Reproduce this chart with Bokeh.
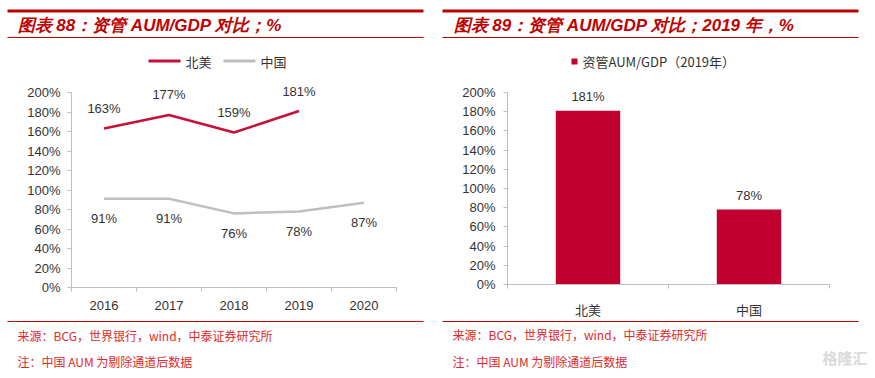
from bokeh.plotting import figure
from bokeh.models import (ColumnDataSource, LabelSet, FixedTicker, Range1d,
                          PrintfTickFormatter, LinearAxis)
from bokeh.core.properties import value
from bokeh.embed import file_html
from bokeh.resources import INLINE

# ---------------- data ----------------
years = ["2016", "2017", "2018", "2019", "2020"]
na_vals = [163, 177, 159, 181]          # 北美 2016-2019
cn_vals = [91, 91, 76, 78, 87]          # 中国 2016-2020
bar_cats = ["北美", "中国"]
bar_vals = [181, 78]
y_ticks = [0, 20, 40, 60, 80, 100, 120, 140, 160, 180, 200]

title_left = "图表 88：资管 AUM/GDP 对比；%"
title_right = "图表 89：资管 AUM/GDP 对比；2019 年，%"
legend_left = ["北美", "中国"]
legend_right = "资管AUM/GDP（2019年）"
source_txt = "来源：BCG，世界银行，wind，中泰证券研究所"
note_txt = "注：中国 AUM 为剔除通道后数据"
watermark = "格隆汇"

RED = "#C00000"
LINE_RED = "#C8103A"
GRAY = "#BFBFBF"
BAR = "#C0002E"
TXT = "#333333"
SRC = "#E02A2A"
AX = "#BFBFBF"
LATIN = "Liberation Sans"
CJK = "Noto Sans CJK SC"

W, H = 875, 378

# whole canvas = frame; default ranges are page pixels (y downwards)
p = figure(width=W, height=H, x_range=Range1d(0, W), y_range=Range1d(H, 0),
           x_axis_type=None, y_axis_type=None, output_backend="svg",
           toolbar_location=None, min_border=0, min_border_left=0,
           min_border_right=0, min_border_top=0, min_border_bottom=0)
p.outline_line_color = None
p.xgrid.visible = False
p.ygrid.visible = False


def mapped_range(v_a, px_a, v_b, px_b, total, vertical):
    k = (v_b - v_a) / (px_b - px_a)
    v0 = v_a + (0 - px_a) * k
    vt = v_a + (total - px_a) * k
    return Range1d(vt, v0) if vertical else Range1d(v0, vt)


def rule(x0, x1, y0, y1, color):
    p.quad(left=[x0], right=[x1], top=[y0], bottom=[y1], fill_color=color,
           line_color=None)


def text(x, y, s, size, color, font=CJK, style="normal", align="left"):
    p.text(x=[x], y=[y], text=[s], text_font=value(font),
           text_font_size=f"{size}px", text_font_style=style,
           text_color=color, text_baseline="middle", text_align=align)


def chart_axes(xr, yr, n, labels, label_font, x_standoff, y_standoff):
    centers = list(range(n))
    xa = LinearAxis(x_range_name=xr, y_range_name=yr, fixed_location=0,
                    bounds=(-0.5, n - 0.5),
                    ticker=FixedTicker(ticks=centers,
                                       minor_ticks=[i - 0.5 for i in range(n + 1)]))
    xa.major_label_overrides = {c: l for c, l in zip(centers, labels)}
    xa.major_tick_out = 0
    xa.major_tick_in = 0
    xa.minor_tick_out = 4
    xa.minor_tick_in = 0
    xa.minor_tick_line_color = AX
    xa.axis_line_color = AX
    xa.major_label_text_font = label_font
    xa.major_label_text_font_size = "13px"
    xa.major_label_text_color = TXT
    xa.major_label_standoff = x_standoff
    p.add_layout(xa, "below")

    ya = LinearAxis(x_range_name=xr, y_range_name=yr, fixed_location=-0.5,
                    bounds=(0, 200),
                    ticker=FixedTicker(ticks=y_ticks, minor_ticks=[]),
                    formatter=PrintfTickFormatter(format="%d%%"))
    ya.major_tick_out = 4
    ya.major_tick_in = 0
    ya.major_tick_line_color = AX
    ya.axis_line_color = AX
    ya.major_label_text_font = LATIN
    ya.major_label_text_font_size = "13px"
    ya.major_label_text_color = TXT
    ya.major_label_standoff = y_standoff
    p.add_layout(ya, "left")


# ---------------- left: line chart ----------------
n_l = len(years)
p.extra_x_ranges["lx"] = mapped_range(-0.5, 71, n_l - 0.5, 396, W, False)
p.extra_y_ranges["ly"] = mapped_range(0, 287, 200, 92, H, True)
chart_axes("lx", "ly", n_l, years, LATIN, 9, 7)

xs = list(range(n_l))
src_na = ColumnDataSource(dict(x=xs[:len(na_vals)], y=na_vals,
                               t=[f"{v}%" for v in na_vals]))
src_cn = ColumnDataSource(dict(x=xs, y=cn_vals, t=[f"{v}%" for v in cn_vals]))
p.line("x", "y", source=src_na, line_color=LINE_RED, line_width=2.5,
       x_range_name="lx", y_range_name="ly")
p.line("x", "y", source=src_cn, line_color=GRAY, line_width=2.5,
       x_range_name="lx", y_range_name="ly")
for src, off in ((src_na, 20), (src_cn, -20)):
    p.add_layout(LabelSet(x="x", y="y", text="t", source=src, y_offset=off,
                          x_range_name="lx", y_range_name="ly",
                          text_align="center", text_baseline="middle",
                          text_font=value(LATIN), text_font_size="13px",
                          text_color=TXT))

rule(7, 423, 9, 12, RED)
text(17, 25, title_left, 17, RED, font=LATIN, style="bold italic")
rule(7, 423, 36.5, 37.5, RED)
rule(148, 180, 59, 62, LINE_RED)
text(185, 61, legend_left[0], 13, TXT)
rule(223, 255, 59, 62, GRAY)
text(260, 61, legend_left[1], 13, TXT)
rule(7, 423, 320.5, 321.5, RED)
text(17, 335, source_txt, 12, SRC)
text(17, 361, note_txt, 12, SRC)

# ---------------- right: bar chart ----------------
n_r = len(bar_cats)
p.extra_x_ranges["rx"] = mapped_range(-0.5, 507, n_r - 0.5, 829, W, False)
p.extra_y_ranges["ry"] = mapped_range(0, 284, 200, 92, H, True)
chart_axes("rx", "ry", n_r, bar_cats, CJK, 11, 8)

bx = list(range(n_r))
src_bar = ColumnDataSource(dict(x=bx, top=bar_vals,
                                t=[f"{v}%" for v in bar_vals]))
p.vbar(x="x", top="top", bottom=0, width=0.4, source=src_bar,
       fill_color=BAR, line_color=None, x_range_name="rx", y_range_name="ry")
p.add_layout(LabelSet(x="x", y="top", text="t", source=src_bar, y_offset=14,
                      x_range_name="rx", y_range_name="ry",
                      text_align="center", text_baseline="middle",
                      text_font=value(LATIN), text_font_size="13px",
                      text_color=TXT))

rule(442, 858, 9, 12, RED)
text(453, 25, title_right, 17, RED, font=LATIN, style="bold italic")
rule(442, 858, 36.5, 37.5, RED)
rule(571, 577, 58, 64, BAR)
text(582, 61, legend_right, 13, TXT)
rule(442, 858, 320.5, 321.5, RED)
text(452, 334, source_txt, 12, SRC)
text(452, 361, note_txt, 12, SRC)
text(822, 357, watermark, 15, "#DADADA", style="bold")

open("out.html", "w").write(file_html(p, INLINE))
